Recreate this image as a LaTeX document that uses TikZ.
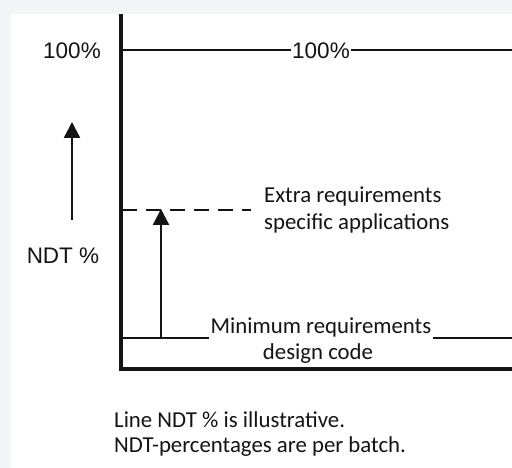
\documentclass[tikz,border=0pt]{standalone}
\usepackage{fontspec}
\setmainfont{Carlito}
\newfontfamily\arialf{Liberation Sans}
\usetikzlibrary{arrows.meta}
\definecolor{bggray}{HTML}{F4F5F7}
\definecolor{ink}{HTML}{141414}
\begin{document}
\begin{tikzpicture}[x=1pt,y=-1pt,
  lbl/.style={font=\fontsize{22.8}{27}\selectfont, text=ink, inner sep=1pt},
  albl/.style={font=\arialf\fontsize{22.5}{27}\selectfont, text=ink, inner sep=1pt},
  thinln/.style={draw=ink, line width=1.5pt},
  axisln/.style={draw=ink, line width=3.6pt},
  arr/.style={draw=ink, line width=2.4pt, -{Triangle[length=16pt,width=16pt]}}]
\fill[bggray] (0,0) rectangle (512,468);
\fill[white] (11,14) rectangle (512,468);
\useasboundingbox (0,0) rectangle (512,468);
% axes
\coordinate (ytop) at (121,16);
\coordinate (orig) at (121,369);
\coordinate (xend) at (512,369);
\draw[axisln, line cap=rect] (ytop) -- (orig) -- (xend);
% 100% line
\node[albl, fill=white, inner sep=1pt] (hund) at (321,51) {100\%};
\coordinate (h0) at (122,50);
\coordinate (h1) at (512,50);
\draw[thinln] (h0) -- (h0 -| hund.west);
\draw[thinln] (h1 -| hund.east) -- (h1);
\node[albl] (hundL) at (72,51) {100\%};
% NDT arrow
\coordinate (na0) at (72,220);
\coordinate (na1) at (72,122);
\draw[arr] (na0) -- (na1);
\node[albl] (ndt) at (63,256) {NDT \%};
% dashed extra line
\coordinate (d0) at (122,210);
\coordinate (d1) at (251,210);
\draw[thinln, dash pattern=on 15pt off 9pt] (d0) -- (d1);
\node[lbl, align=left, anchor=west] (extra) at (263,210) {Extra requirements\\specific applications};
% minimum line
\node[lbl, fill=white, inner sep=2pt] (minreq) at (321,327) {Minimum requirements};
\node[lbl] (dcode) at (318,354) {design code};
\coordinate (m0) at (122,338);
\coordinate (m1) at (512,338);
\draw[thinln] (m0) -- (minreq.west |- m0);
\draw[thinln] (minreq.east |- m0) -- (m1);
% vertical arrow
\coordinate (va0) at (161,338);
\coordinate (va1) at (161,209);
\draw[arr] (va0) -- (va1);
% footnote
\node[lbl, align=left, anchor=west, font=\fontsize{22.8}{25}\selectfont] (note) at (113,434) {Line NDT \% is illustrative.\\NDT-percentages are per batch.};
\end{tikzpicture}
\end{document}
